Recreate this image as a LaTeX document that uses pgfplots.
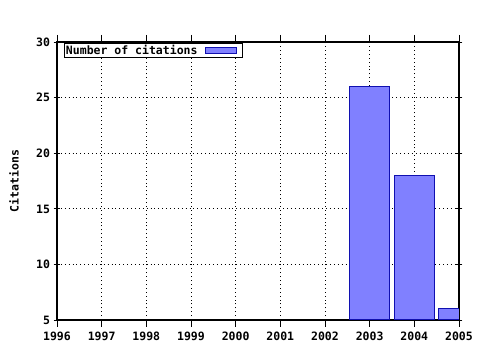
\documentclass[border=0pt]{standalone}
\usepackage{pgfplots}
\pgfplotsset{compat=1.18}
\usepackage{fontspec}
\setmainfont{DejaVu Sans Mono}
\definecolor{barfill}{HTML}{8080FF}
\definecolor{barline}{HTML}{1010B0}
\begin{document}
\begin{tikzpicture}
\begin{axis}[
  scale only axis,
  width=402pt, height=278pt,
  xmin=1996, xmax=2005,
  ymin=5, ymax=30,
  xtick={1996,...,2005},
  ytick={5,10,...,30},
  minor x tick num=3,
  /pgf/number format/assume math mode=true,
  /pgf/number format/1000 sep={},
  ticklabel style={font=\fontsize{11.5}{13}\selectfont\bfseries, text height=8.5pt, text depth=0pt},
  xticklabel style={yshift=-1pt},
  tick align=center,
  major tick length=7pt,
  minor tick length=4pt,
  tick style={black, line width=0.8pt},
  axis line style={black, line width=1.3pt},
  grid=major,
  major grid style={black, line width=0.9pt, dash pattern=on 0.9pt off 3pt},
  ylabel={Citations},
  ylabel style={at={(axis description cs:-0.107,0.5)}, anchor=center, font=\fontsize{11.5}{13}\selectfont\bfseries},
  ybar, bar width=40pt,
  legend style={at={(0,1)}, anchor=north west, xshift=7pt, yshift=-1pt,
    draw=black, line width=1pt, inner sep=0.5pt, font=\fontsize{11.5}{13}\selectfont\bfseries,
    nodes={inner sep=1pt}},
  legend plot pos=right,
  legend image code/.code={\draw[#1, line width=1pt] (6pt,-3pt) rectangle (37pt,3pt);
     \path (0pt,0pt) (42pt,0pt);},
]
\addplot[fill=barfill, draw=barline, line width=1pt] coordinates {(2003,26) (2004,18) (2005,6)};
\addlegendentry{Number of citations}
\end{axis}
\path (current axis.south west) ++(-57pt,-30pt) rectangle ++(480pt,350pt);
\end{tikzpicture}
\end{document}
